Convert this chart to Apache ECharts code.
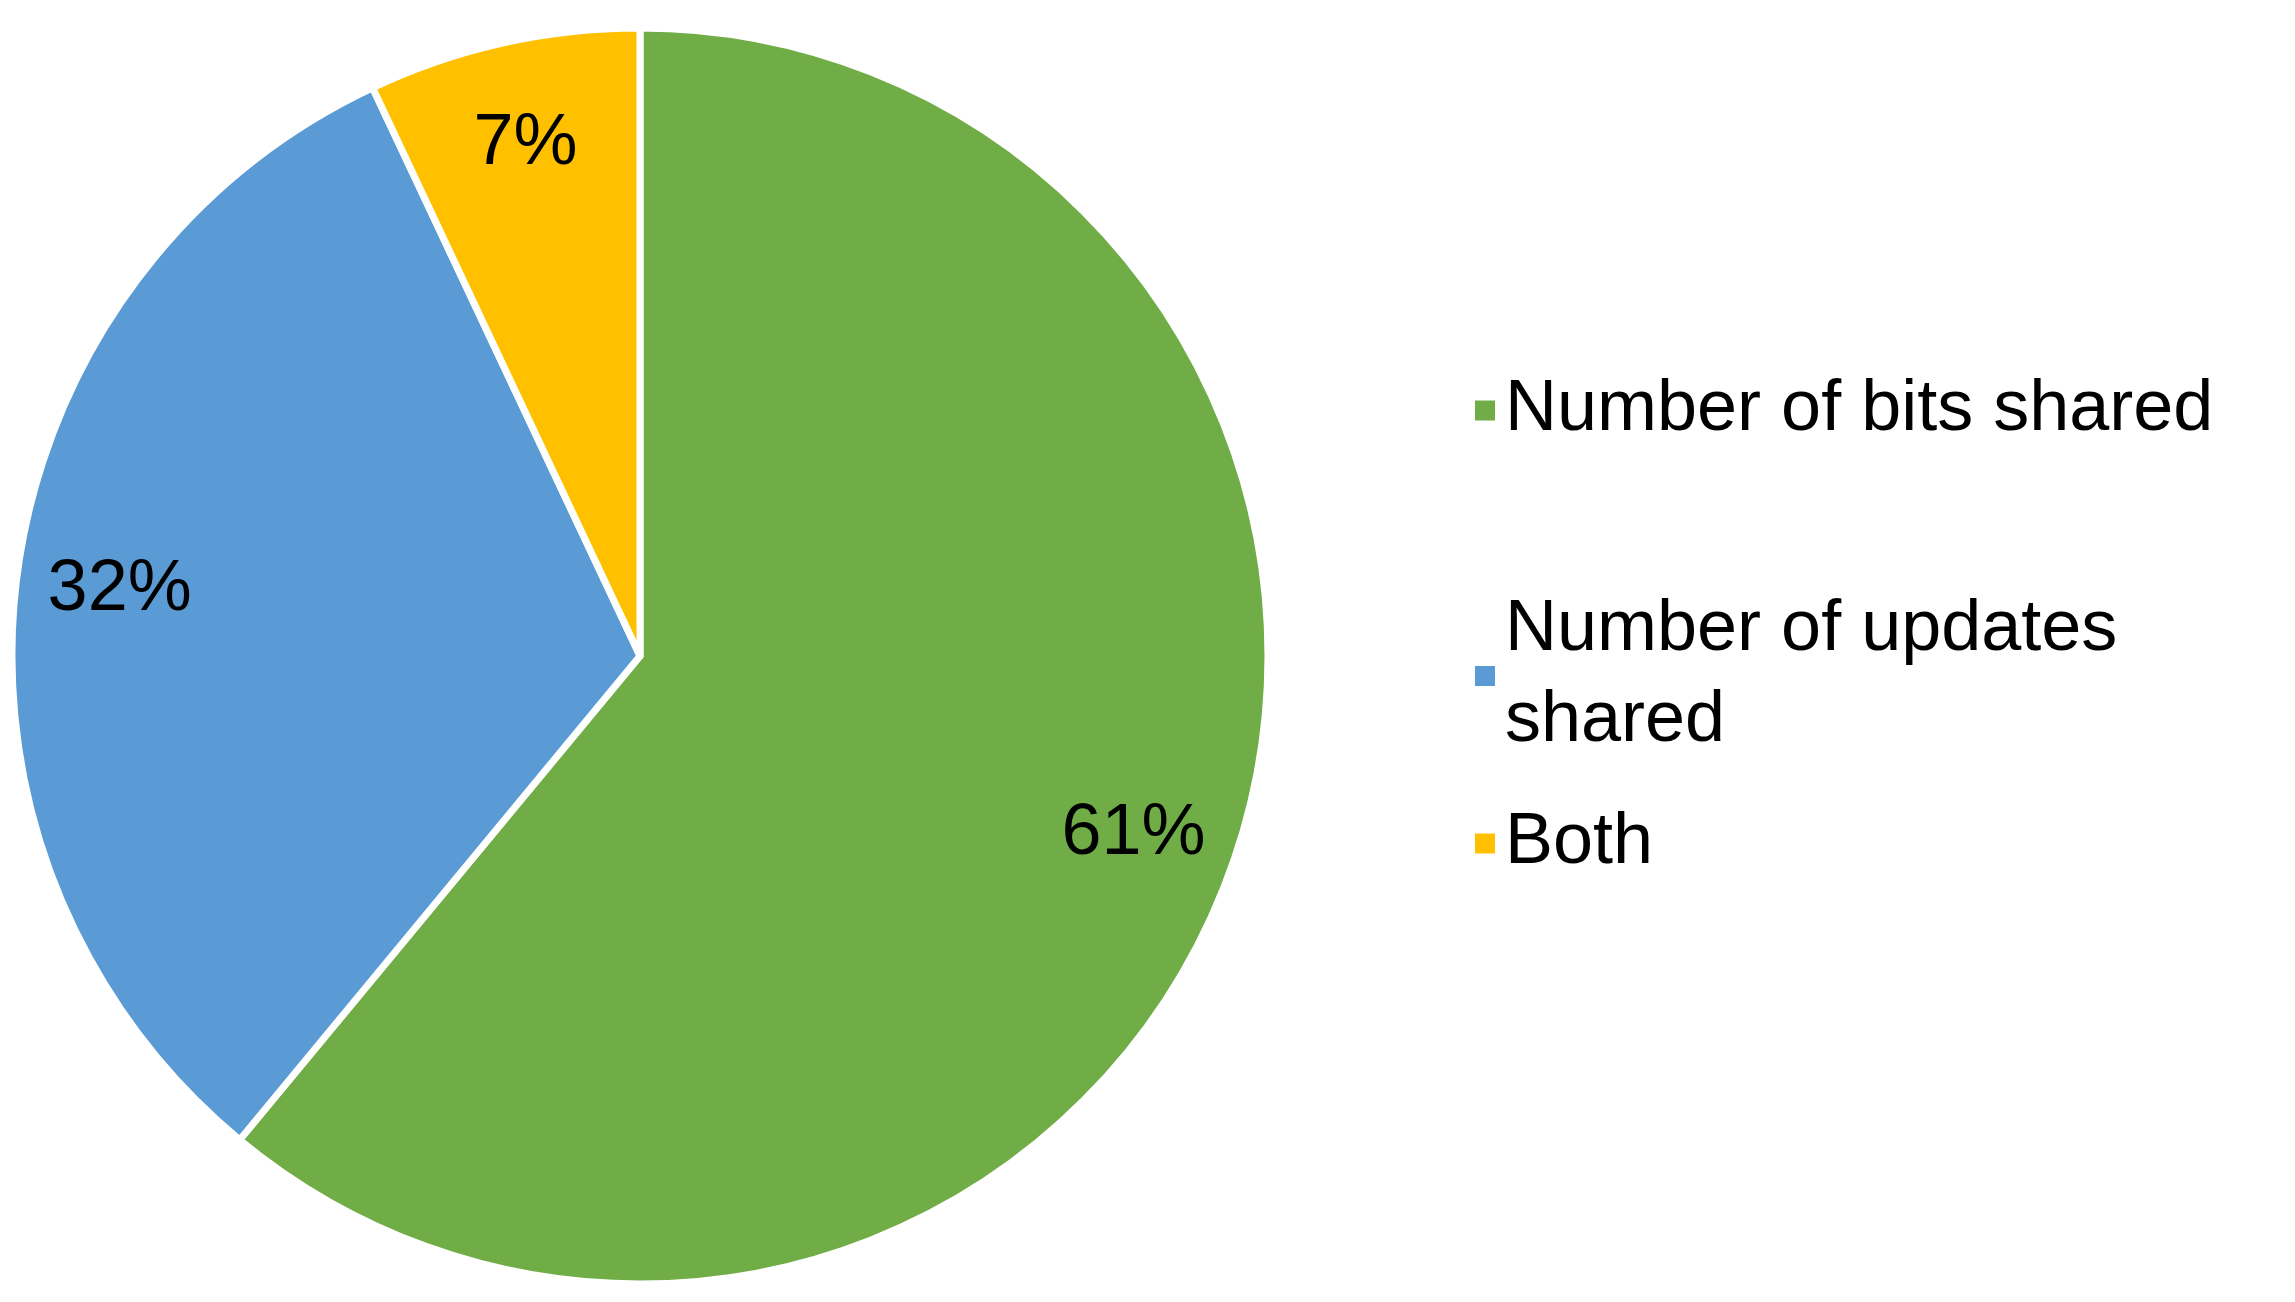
<!DOCTYPE html>
<html><head><meta charset="utf-8">
<script src="https://cdn.jsdelivr.net/npm/echarts@6/dist/echarts.min.js"></script>
<style>html,body{margin:0;background:#fff}#c{width:2295px;height:1302px}</style>
</head><body><div id="c"></div>
<script>
const categories = ['Number of bits shared', 'Number of updates shared', 'Both'];
const legendText = ['Number of bits shared', 'Number of updates\nshared', 'Both'];
const values = [61, 32, 7];
const colors = ['#70AD47', '#5B9BD5', '#FFC000'];

const data = categories.map((n, i) => ({ name: n, value: values[i], itemStyle: { color: colors[i] } }));
const font = 'Liberation Sans, Arial, sans-serif';
const legendTops = [360, 580, 793];
const chart = echarts.init(document.getElementById('c'));
chart.setOption({
  animation: false,
  legend: categories.map((n, i) => ({
    data: [n], orient: 'vertical', left: 1468, top: legendTops[i],
    icon: 'rect', itemWidth: 22, itemHeight: 22, itemGap: 0,
    formatter: () => legendText[i],
    textStyle: { fontFamily: font, fontSize: 72, color: '#000', lineHeight: 91, padding: [0, 0, 0, 4] }
  })),
  series: [{
    type: 'pie', center: [640, 656], radius: 628, startAngle: 90, clockwise: true,
    data: data,
    itemStyle: { borderColor: '#fff', borderWidth: 7 },
    label: { show: false }, labelLine: { show: false }, emphasis: { disabled: true }
  }, {
    type: 'pie', center: [640, 656], radius: [415, 628], startAngle: 90, clockwise: true,
    silent: true,
    data: data.map(d => ({ name: d.name, value: d.value, itemStyle: { color: 'rgba(0,0,0,0)' } })),
    label: { show: true, position: 'inside', formatter: '{c}%', fontFamily: font, fontSize: 72, color: '#000' },
    labelLine: { show: false }, emphasis: { disabled: true }
  }]
});
</script></body></html>
